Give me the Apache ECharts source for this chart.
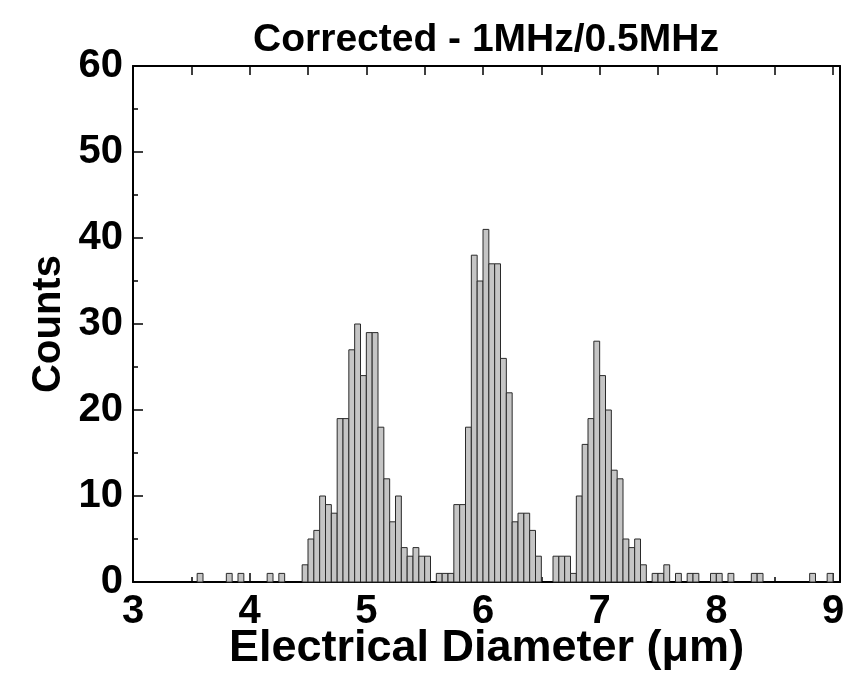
<!DOCTYPE html>
<html><head><meta charset="utf-8">
<script src="https://cdn.jsdelivr.net/npm/echarts@6/dist/echarts.min.js"></script>
<style>html,body{margin:0;padding:0;background:#fff}#c{width:849px;height:679px}</style>
</head><body><div id="c"></div>
<script>
// Histogram bins (left edge, µm) with non-zero counts; bin width 0.05 µm
const binWidth = 0.05;
const binLeft = [3.55,3.80,3.90,4.15,4.25,4.45,4.50,4.55,4.60,4.65,4.70,4.75,4.80,4.85,4.90,4.95,5.00,5.05,5.10,5.15,5.20,5.25,5.30,5.35,5.40,5.45,5.50,5.60,5.65,5.70,5.75,5.80,5.85,5.90,5.95,6.00,6.05,6.10,6.15,6.20,6.25,6.30,6.35,6.40,6.45,6.60,6.65,6.70,6.75,6.80,6.85,6.90,6.95,7.00,7.05,7.10,7.15,7.20,7.25,7.30,7.35,7.45,7.50,7.55,7.65,7.75,7.80,7.95,8.00,8.10,8.30,8.35,8.80,8.95];
const counts  = [1,1,1,1,1,2,5,6,10,9,8,19,19,27,30,24,29,29,18,12,7,10,4,3,4,3,3,1,1,1,9,9,18,38,35,41,37,37,26,22,7,8,8,6,3,3,3,3,1,10,16,19,28,24,20,13,12,5,4,5,2,1,1,2,1,1,1,1,1,1,1,1,1,1];
const xLabels = [3,4,5,6,7,8,9];
const yLabels = [0,10,20,30,40,50,60];

const FONT = '"Liberation Sans", Arial, sans-serif';
const data = binLeft.map((b, i) => [b, counts[i]]);

const chart = echarts.init(document.getElementById('c'), null, {renderer: 'canvas'});
const axisLine = {show: true, onZero: false, lineStyle: {color: '#000', width: 2}};
const tick = (len) => ({show: true, inside: true, length: len, lineStyle: {color: '#000', width: 1.5}});
chart.setOption({
  backgroundColor: '#fff',
  animation: false,
  title: {
    text: 'Corrected - 1MHz/0.5MHz',
    left: 486, top: 21, textAlign: 'center', padding: 0,
    textStyle: {fontFamily: FONT, fontWeight: 'bold', fontSize: 39, color: '#000'}
  },
  grid: {left: 133, right: 9, top: 66, bottom: 97, containLabel: false, outerBoundsMode: 'none'},
  xAxis: [{
    type: 'value', position: 'bottom', min: 3, max: 9.06, interval: 1,
    axisLine: axisLine,
    axisTick: tick(9),
    minorTick: Object.assign(tick(5), {splitNumber: 2}),
    axisLabel: {margin: 10, fontFamily: FONT, fontWeight: 'bold', fontSize: 40, color: '#000',
      formatter: v => xLabels.includes(Math.round(v * 1000) / 1000) ? String(v) : ''},
    splitLine: {show: false},
    name: 'Electrical Diameter (\u03bcm)', nameLocation: 'middle', nameGap: 44, nameMoveOverlap: false,
    nameTextStyle: {fontFamily: FONT, fontWeight: 'bold', fontSize: 45, color: '#000'}
  }, {
    type: 'value', position: 'top', min: 3, max: 9.06, interval: 1,
    axisLine: axisLine,
    axisTick: tick(9),
    minorTick: Object.assign(tick(9), {splitNumber: 2}),
    axisLabel: {show: false}, splitLine: {show: false}
  }],
  yAxis: [{
    type: 'value', position: 'left', min: 0, max: 60, interval: 10,
    axisLine: axisLine,
    axisTick: tick(10),
    minorTick: Object.assign(tick(5), {splitNumber: 2}),
    axisLabel: {margin: 10, fontFamily: FONT, fontWeight: 'bold', fontSize: 40, color: '#000',
      formatter: v => yLabels.includes(v) ? String(v) : ''},
    splitLine: {show: false},
    name: 'Counts', nameLocation: 'middle', nameGap: 64, nameRotate: 90, nameMoveOverlap: false,
    nameTextStyle: {fontFamily: FONT, fontWeight: 'bold', fontSize: 40, color: '#000'}
  }, {
    type: 'value', position: 'right', min: 0, max: 60, interval: 10,
    axisLine: axisLine, axisTick: {show: false}, axisLabel: {show: false}, splitLine: {show: false}
  }],
  series: [{
    type: 'custom',
    xAxisIndex: 0, yAxisIndex: 0,
    data: data,
    encode: {x: 0, y: 1},
    renderItem: function (params, api) {
      const x0 = api.value(0), y = api.value(1);
      const p0 = api.coord([x0, y]);
      const p1 = api.coord([x0 + binWidth, 0]);
      return {
        type: 'rect',
        shape: {x: p0[0], y: p0[1], width: p1[0] - p0[0], height: p1[1] - p0[1]},
        style: {fill: '#c5c5c5', stroke: '#2a2a2a', lineWidth: 1}
      };
    }
  }]
});
</script></body></html>
